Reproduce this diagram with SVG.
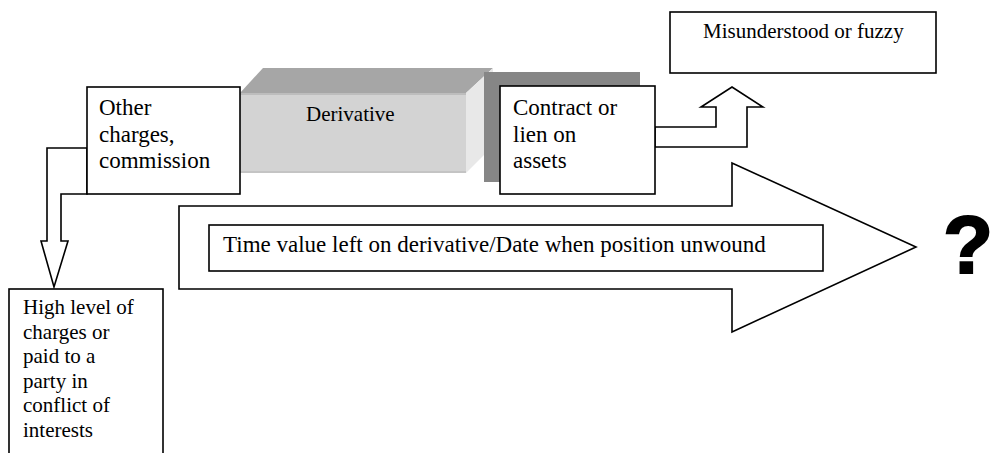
<svg xmlns="http://www.w3.org/2000/svg" width="994" height="453" viewBox="0 0 994 453">
<style>
.box{fill:#fff;stroke:#000;stroke-width:1.6}
.conn{fill:#fff;stroke:#000;stroke-width:1.6;stroke-linejoin:miter}
.t{font-family:"Liberation Serif","Times New Roman",serif;fill:#000}
.t23{font-size:23px}
.t21{font-size:21px}
</style>
<rect width="994" height="453" fill="#fff"/>
<g id="connectors">
<polygon class="conn" points="179,206 732,206 732,163 916,247 732,332 732,289 179,289"/>
<polygon class="conn" points="87,148 47,148 47,241 41,241 54,287 68,241 61,241 61,194 87,194"/>
<polygon class="conn" points="655,127 716,127 716,107 701,107 732,87 763,107 747,107 747,147 655,147"/>
</g>
<g id="derivative">
<polygon points="240,93 263,68 493,68 466,93" fill="#a6a6a6"/>
<polygon points="466,93 493,68 493,146 466,173" fill="#e8e8e8"/>
<rect x="236" y="93" width="230" height="80" fill="#d3d3d3"/>
<rect x="236" y="93" width="230" height="2" fill="#bdbdbd"/>
<rect x="236" y="171" width="230" height="2" fill="#c4c4c4"/>
<text class="t t21" x="306" y="121">Derivative</text>
</g>
<g id="other-charges">
<rect class="box" x="87" y="87" width="153" height="107"/>
<text class="t t23" x="99" y="115">Other</text>
<text class="t t23" x="99" y="141.5">charges,</text>
<text class="t t23" x="99" y="168">commission</text>
</g>
<g id="contract">
<rect x="484" y="72" width="156" height="110" fill="#868686"/>
<rect class="box" x="500" y="86" width="155" height="108"/>
<text class="t t23" x="513" y="115">Contract or</text>
<text class="t t23" x="513" y="141.5">lien on</text>
<text class="t t23" x="513" y="168">assets</text>
</g>
<g id="misunderstood">
<rect class="box" x="670" y="12" width="266" height="61"/>
<text class="t t21" x="703" y="38">Misunderstood or fuzzy</text>
</g>
<g id="high-level">
<rect class="box" x="9" y="289" width="154" height="170"/>
<text class="t t21" x="23" y="314">High level of</text>
<text class="t t21" x="23" y="338.6">charges or</text>
<text class="t t21" x="23" y="363.2">paid to a</text>
<text class="t t21" x="23" y="387.8">party in</text>
<text class="t t21" x="23" y="412.4">conflict of</text>
<text class="t t21" x="23" y="437">interests</text>
</g>
<g id="time-value">
<rect class="box" x="209" y="225" width="614" height="46"/>
<text class="t t23" x="223" y="252">Time value left on derivative/Date when position unwound</text>
</g>
<g id="question">
<text x="968" y="273" text-anchor="middle" font-family="'Liberation Sans',Arial,sans-serif" font-weight="bold" font-size="82" fill="#000" stroke="#000" stroke-width="2">?</text>
</g>
</svg>
